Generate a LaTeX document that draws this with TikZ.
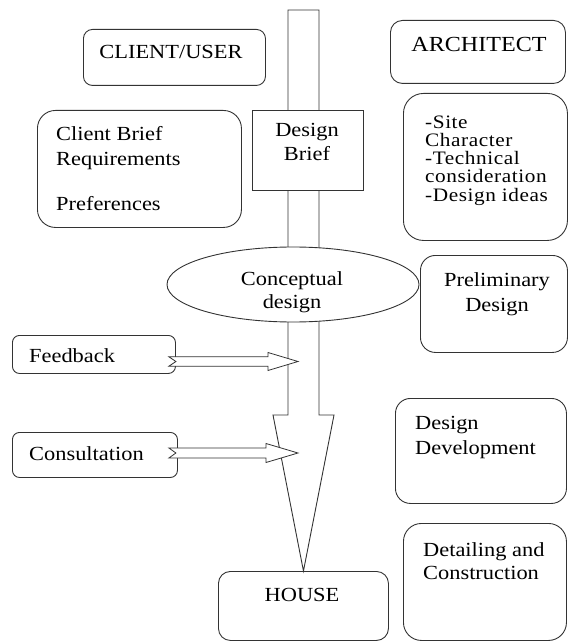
\documentclass[tikz,border=0pt]{standalone}
\usepackage{fontspec}
\setmainfont[FakeStretch=1.12]{Liberation Serif}
\newfontfamily\loosefont[FakeStretch=1.12,LetterSpace=3]{Liberation Serif}
\usetikzlibrary{calc,shapes.geometric}
\begin{document}
\begin{tikzpicture}[x=1pt,y=-1pt,
  ln/.style={draw=black!80, line width=0.9pt},
  rbox/.style={ln, rectangle, rounded corners=#1, anchor=north west, inner sep=0pt},
  txt/.style={inner sep=0pt, font=\fontsize{20}{24}\selectfont},
  small/.style={inner sep=0pt, font=\loosefont\fontsize{19}{19}\selectfont},
]
\useasboundingbox (0,0) rectangle (568,644);

% ---------- outcome box at the bottom ----------
\node[rbox=12pt, minimum width=170pt, minimum height=69pt] (house) at (218,571) {};
\node[txt, anchor=base] (houseT) at (302,601) {HOUSE};

% ---------- main process arrow (shaft + head) ----------
\coordinate (shaftTop) at (303.5,10);
\coordinate (headBase) at (303.5,415);
\draw[ln, fill=white, line join=miter]
  ($(shaftTop)+(-15.5,0)$) -- ($(headBase)+(-15.5,0)$) -- ($(headBase)+(-30.5,0)$)
  -- (house.north)
  -- ($(headBase)+(30.5,0)$) -- ($(headBase)+(15.5,0)$) -- ($(shaftTop)+(15.5,0)$) -- cycle;

% ---------- stages sitting on the arrow ----------
\node[ln, fill=white, rectangle, anchor=north west, minimum width=111pt, minimum height=80pt] (db) at (252,110) {};
\node[txt, anchor=base] (dbT1) at (307,137) {Design};
\node[txt, anchor=base] (dbT2) at (307,161) {Brief};

\node[ln, fill=white, ellipse, inner sep=0pt, minimum width=252pt, minimum height=75pt] (cd) at (293,284.5) {};
\node[txt, anchor=base] (cdT1) at (292,285) {Conceptual};
\node[txt, anchor=base] (cdT2) at (292,308) {design};

% ---------- client side ----------
\node[rbox=9pt, minimum width=182pt, minimum height=56pt] (cu) at (83,29) {};
\node[txt, anchor=base] (cuT) at (171,59) {CLIENT/USER};

\node[rbox=18pt, minimum width=204pt, minimum height=117pt] (cb) at (37,110) {};
\node[txt, anchor=base west] (cbT1) at (56,141) {Client Brief};
\node[txt, anchor=base west] (cbT2) at (56,166) {Requirements};
\node[txt, anchor=base west] (cbT3) at (56,211) {Preferences};

\node[rbox=7pt, minimum width=163pt, minimum height=38pt] (fb) at (12,335) {};
\node[txt, anchor=base west] (fbT) at (29,362) {Feedback};

\node[rbox=7pt, minimum width=165pt, minimum height=45pt] (cs) at (12,432) {};
\node[txt, anchor=base west] (csT) at (29,460) {Consultation};

% ---------- architect side ----------
\node[rbox=12pt, minimum width=175pt, minimum height=63pt] (ar) at (390,20) {};
\node[txt, anchor=base, font=\fontsize{21.5}{24}\selectfont] (arT) at (479,52) {ARCHITECT};

\node[rbox=20pt, minimum width=164pt, minimum height=147pt] (an) at (403,93) {};
\node[small, anchor=base west] (anT1) at (425,129) {-Site};
\node[small, anchor=base west] (anT2) at (425,147) {Character};
\node[small, anchor=base west] (anT3) at (425,165) {-Technical};
\node[small, anchor=base west] (anT4) at (425,183) {consideration};
\node[small, anchor=base west] (anT5) at (425,201) {-Design ideas};

\node[rbox=15pt, minimum width=147pt, minimum height=97pt] (pd) at (420,255) {};
\node[txt, anchor=base] (pdT1) at (497,286) {Preliminary};
\node[txt, anchor=base] (pdT2) at (497,311) {Design};

\node[rbox=15pt, minimum width=171pt, minimum height=105pt] (dd) at (395,398) {};
\node[txt, anchor=base west] (ddT1) at (415,429) {Design};
\node[txt, anchor=base west] (ddT2) at (415,454) {Development};

\node[rbox=18pt, minimum width=163pt, minimum height=117pt] (dc) at (403,523) {};
\node[txt, anchor=base west] (dcT1) at (423,556) {Detailing and};
\node[txt, anchor=base west] (dcT2) at (423,579) {Construction};

% ---------- hollow notched arrows into the process ----------
\coordinate (fbTip) at (298,361.5);
\coordinate (fbTail) at ($(fb.east |- fbTip)+(-7,0)$);
\draw[ln, fill=white, line width=0.8pt]
  ($(fbTail)+(0,-4.7)$) -- ($(fbTip)+(-30,-4.7)$) -- ($(fbTip)+(-30,-9)$) -- (fbTip)
  -- ($(fbTip)+(-30,9)$) -- ($(fbTip)+(-30,4.7)$) -- ($(fbTail)+(0,4.7)$)
  -- ($(fbTail)+(7,0)$) -- cycle;

\coordinate (csTip) at (298,453);
\coordinate (csTail) at ($(cs.east |- csTip)+(-9,0)$);
\draw[ln, fill=white, line width=0.8pt]
  ($(csTail)+(0,-5)$) -- ($(csTip)+(-32,-5)$) -- ($(csTip)+(-32,-9.5)$) -- (csTip)
  -- ($(csTip)+(-32,9.5)$) -- ($(csTip)+(-32,5)$) -- ($(csTail)+(0,5)$)
  -- ($(csTail)+(7,0)$) -- cycle;
\end{tikzpicture}
\end{document}
